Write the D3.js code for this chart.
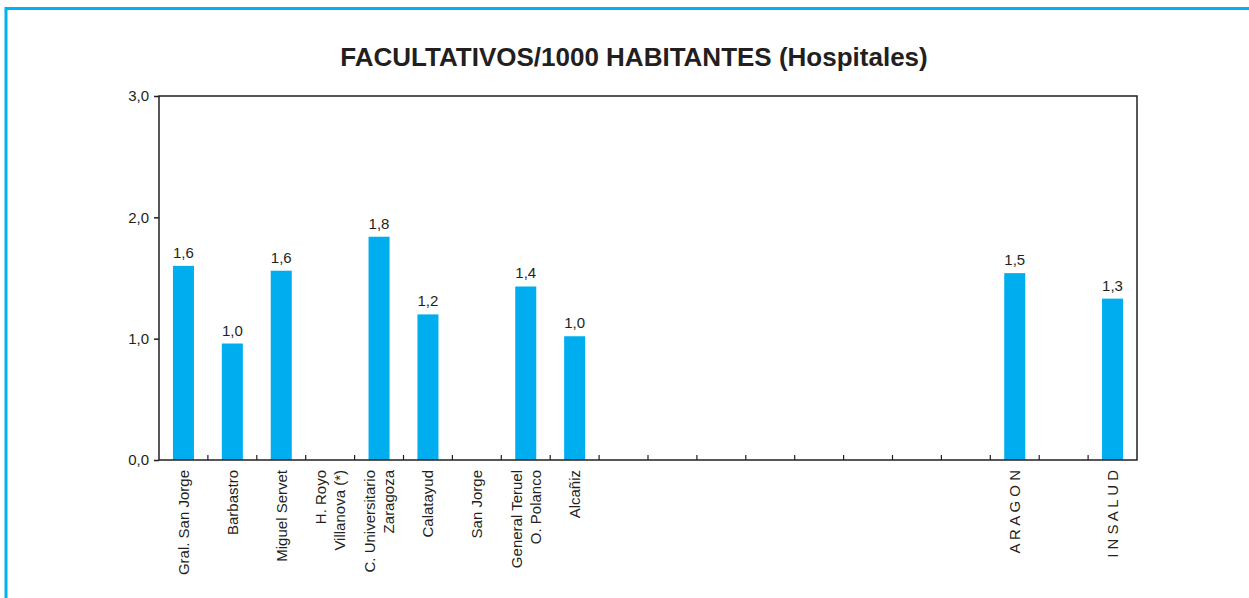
<!DOCTYPE html>
<html>
<head>
<meta charset="utf-8">
<script src="https://cdn.jsdelivr.net/npm/d3@7"></script>
<style>
  body { margin: 0; background: #fff; }
  svg text { font-family: "Liberation Sans", Arial, sans-serif; fill: #231f20; }
</style>
</head>
<body>
<svg id="chart" width="1249" height="598"></svg>
<script>
// hospital names, blank slots kept empty so the axis spacing matches
var categories = [
    ["Gral. San Jorge"], ["Barbastro"], ["Miguel Servet"], ["H. Royo", "Villanova (*)"],
    ["C. Universitario", "Zaragoza"], ["Calatayud"], ["San Jorge"], ["General Teruel", "O. Polanco"],
    ["Alcañiz"], [], [], [], [], [], [], [], [], ["A R A G O N"], [], ["I N S A L U D"]
];
var values = [1.60, 0.96, 1.56, null, 1.84, 1.20, null, 1.43, 1.02,
              null, null, null, null, null, null, null, null, 1.54, null, 1.33];
var yTicks = [0, 1, 2, 3];

var svg = d3.select("#chart");
var plotL = 159, plotR = 1137, plotT = 96, plotB = 460;
var ink = "#231f20", blue = "#00aeef";

var x = d3.scaleBand()
    .domain(d3.range(categories.length))
    .range([plotL, plotR])
    .paddingInner(0.57)
    .paddingOuter(0.285);

var y = d3.scaleLinear().domain([0, 3]).range([plotB, plotT]);

var fmt = function(v) { return d3.format(".1f")(v).replace(".", ","); };

// page frame (left and top only)
svg.append("path")
    .attr("d", "M6,598 V8.5 H1249")
    .attr("fill", "none")
    .attr("stroke", "#00b2ee")
    .attr("stroke-width", 3);

svg.append("text")
    .attr("x", 634)
    .attr("y", 66)
    .attr("text-anchor", "middle")
    .attr("font-size", 26)
    .attr("font-weight", "bold")
    .text("FACULTATIVOS/1000 HABITANTES (Hospitales)");

// bars
var data = values.map(function(v, i) { return {i: i, v: v}; }).filter(function(d) { return d.v != null; });

svg.selectAll(".bar").data(data).enter().append("rect")
    .attr("class", "bar")
    .attr("x", function(d) { return x(d.i); })
    .attr("width", x.bandwidth())
    .attr("y", function(d) { return y(d.v); })
    .attr("height", function(d) { return y(0) - y(d.v); })
    .attr("fill", blue);

svg.selectAll(".val").data(data).enter().append("text")
    .attr("class", "val")
    .attr("x", function(d) { return x(d.i) + x.bandwidth() / 2; })
    .attr("y", function(d) { return y(d.v) - 8; })
    .attr("text-anchor", "middle")
    .attr("font-size", 15)
    .text(function(d) { return fmt(d.v); });

// frame of plot area
svg.append("rect")
    .attr("x", plotL).attr("y", plotT)
    .attr("width", plotR - plotL).attr("height", plotB - plotT)
    .attr("fill", "none").attr("stroke", ink).attr("stroke-width", 1.5);

// y axis
var yAxis = svg.append("g")
    .attr("transform", "translate(" + plotL + ",0)")
    .call(d3.axisLeft(y).tickValues(yTicks).tickSize(5).tickPadding(5).tickFormat(fmt));
yAxis.select(".domain").remove();
yAxis.selectAll("line").attr("stroke", ink).attr("stroke-width", 1.5);
yAxis.selectAll("text").attr("font-size", 15).attr("fill", ink)
    .style("font-family", "'Liberation Sans', Arial, sans-serif");

// x ticks between slots, pointing up
var step = x.step();
var bounds = d3.range(1, categories.length).map(function(i) { return plotL + i * step; });
svg.selectAll(".xtick").data(bounds).enter().append("line")
    .attr("x1", function(d) { return d; }).attr("x2", function(d) { return d; })
    .attr("y1", plotB).attr("y2", plotB - 5)
    .attr("stroke", ink).attr("stroke-width", 1.2);

// rotated category labels
categories.forEach(function(lines, i) {
    var cx = x(i) + x.bandwidth() / 2;
    lines.forEach(function(t, k) {
        var off = (k - (lines.length - 1) / 2) * 19;
        svg.append("text")
            .attr("transform", "translate(" + (cx + off) + "," + (plotB + 10) + ") rotate(-90)")
            .attr("text-anchor", "end")
            .attr("dy", "0.35em")
            .attr("font-size", 15)
            .text(t);
    });
});
</script>
</body>
</html>
